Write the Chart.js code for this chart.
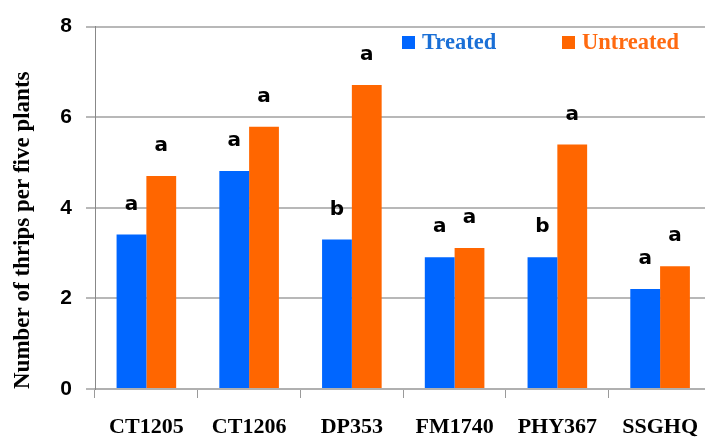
<!DOCTYPE html>
<html>
<head>
<meta charset="utf-8">
<script src="https://cdn.jsdelivr.net/npm/chart.js@4/dist/chart.umd.min.js"></script>
<style>
  html, body { margin: 0; padding: 0; background: #fff; overflow: hidden; }
  #thripsChart { display: block; }
</style>
</head>
<body>
<canvas id="thripsChart" width="714" height="439"></canvas>
<script>
const cultivars = ["CT1205", "CT1206", "DP353", "FM1740", "PHY367", "SSGHQ"];
const treated = [3.41, 4.81, 3.30, 2.91, 2.91, 2.21];
const untreated = [4.70, 5.79, 6.71, 3.11, 5.40, 2.71];
const treatedLetters = ["a", "a", "b", "a", "b", "a"];
const untreatedLetters = ["a", "a", "a", "a", "a", "a"];
const yTicks = [0, 2, 4, 6, 8];

const blue = "#0066ff";
const orange = "#ff6600";
const serif = "'Liberation Serif', 'Times New Roman', serif";

// letters above each bar
const letterPlugin = {
  id: "letters",
  afterDatasetsDraw(chart) {
    const ctx = chart.ctx;
    ctx.save();
    ctx.font = "bold 20px 'DejaVu Sans', sans-serif";
    ctx.fillStyle = "#000";
    ctx.textAlign = "center";
    ctx.textBaseline = "middle";
    [treatedLetters, untreatedLetters].forEach((letters, di) => {
      chart.getDatasetMeta(di).data.forEach((bar, i) => {
        ctx.fillText(letters[i], bar.x, bar.y - 30);
      });
    });
    ctx.restore();
  }
};

// legend drawn inside the plot, top right
const legendPlugin = {
  id: "innerLegend",
  afterDraw(chart) {
    const ctx = chart.ctx;
    const items = [
      { text: "Treated", box: blue, color: "#1a6fd6", x: 402 },
      { text: "Untreated", box: orange, color: "#ff6a10", x: 562 }
    ];
    ctx.save();
    ctx.font = "bold 22.5px " + serif;
    ctx.textBaseline = "middle";
    items.forEach((it) => {
      ctx.fillStyle = it.box;
      ctx.fillRect(it.x, 36, 13, 13);
      ctx.fillStyle = it.color;
      ctx.fillText(it.text, it.x + 20, 43);
    });
    ctx.restore();
  }
};

new Chart(document.getElementById("thripsChart"), {
  type: "bar",
  data: {
    labels: cultivars,
    datasets: [
      { label: "Treated", data: treated, backgroundColor: blue, borderWidth: 0 },
      { label: "Untreated", data: untreated, backgroundColor: orange, borderWidth: 0 }
    ]
  },
  options: {
    responsive: false,
    animation: false,
    layout: { padding: { top: 23, right: 0, bottom: 0, left: 0 } },
    datasets: { bar: { categoryPercentage: 0.58, barPercentage: 1.0 } },
    plugins: { legend: { display: false }, tooltip: { enabled: false } },
    scales: {
      x: {
        afterFit: (scale) => { scale.height = 50; },
        grid: { drawOnChartArea: false, drawTicks: true, tickLength: 9, color: "#9a9a9a", lineWidth: 1 },
        border: { color: "#b0b0b0", width: 2 },
        ticks: {
          color: "#000",
          padding: 16,
          font: { family: serif, size: 22, weight: "bold" }
        }
      },
      y: {
        min: 0,
        max: 8,
        afterFit: (scale) => { scale.width = 95; },
        afterBuildTicks: (scale) => { scale.ticks = yTicks.map((v) => ({ value: v })); },
        grid: { color: "#b8b8b8", lineWidth: 2, tickLength: 9 },
        border: { color: "#888", width: 1 },
        ticks: {
          color: "#000",
          padding: 14,
          font: { family: "'Liberation Sans', Arial, sans-serif", size: 21, weight: "bold" }
        },
        title: {
          display: true,
          text: "Number of thrips per five plants",
          align: "start",
          color: "#000",
          padding: { top: 9, bottom: 0 },
          font: { family: serif, size: 23, weight: "bold" }
        }
      }
    }
  },
  plugins: [letterPlugin, legendPlugin]
});
</script>
</body>
</html>
